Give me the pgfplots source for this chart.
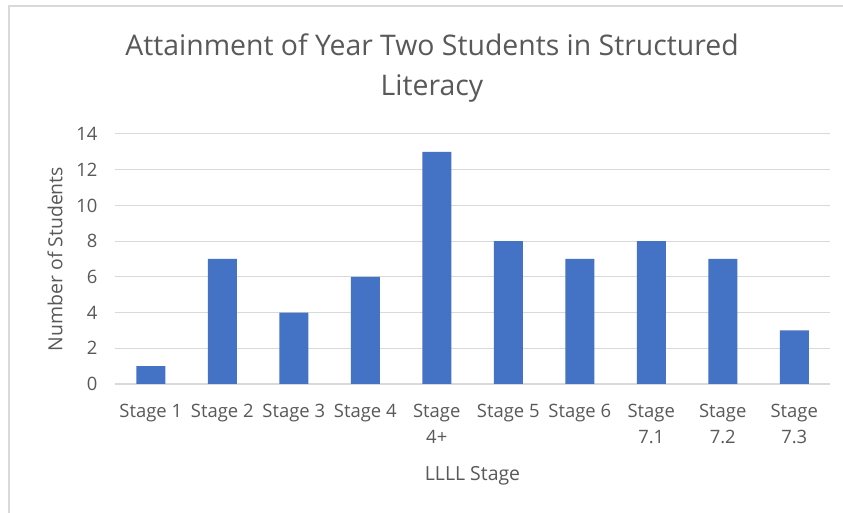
\documentclass[border=0pt]{standalone}
\usepackage{fontspec}
\setmainfont{Open Sans}
\usepackage{pgfplots}
\pgfplotsset{compat=1.18}
\definecolor{barblue}{HTML}{4472C4}
\definecolor{txtgray}{HTML}{595959}
\definecolor{gridgray}{HTML}{D9D9D9}
\begin{document}
\begin{tikzpicture}
\useasboundingbox (0,0) rectangle (843bp,513bp);
\fill[white] (0,0) rectangle (843bp,513bp);
\draw[gridgray, line width=2bp] (9bp,0) -- (9bp,507bp) -- (843bp,507bp);
\begin{axis}[
  at={(115bp,129bp)}, anchor=south west,
  scale only axis, width=715bp, height=250bp,
  xmin=-0.5, xmax=9.5, ymin=0, ymax=14,
  ytick={0,2,...,14},
  xtick={0,...,9},
  xticklabels={{Stage 1},{Stage 2},{Stage 3},{Stage 4},{Stage\\4+},{Stage 5},{Stage 6},{Stage\\7.1},{Stage\\7.2},{Stage\\7.3}},
  xticklabel style={align=center, anchor=north, yshift=-17bp},
  ticklabel style={font=\fontsize{18.5}{26}\selectfont, text=txtgray},
  /pgf/number format/assume math mode=true,
  yticklabel style={xshift=-14bp},
  major tick length=0pt,
  ymajorgrids, grid style={gridgray, line width=1bp},
  axis x line*=bottom, axis y line*=left,
  y axis line style={draw=none},
  x axis line style={gridgray, line width=1.2bp, -},
  ybar, bar width=29bp,
  xlabel={LLLL Stage},
  ylabel={Number of Students},
  label style={font=\fontsize{19.5}{22}\selectfont, text=txtgray},
  xlabel style={at={(0.5,0)}, anchor=center, yshift=-92bp},
  ylabel style={at={(0,0.5)}, anchor=center, yshift=60bp},
]
\addplot[fill=barblue, draw=none] coordinates {
(0,1) (1,7) (2,4) (3,6) (4,13) (5,8) (6,7) (7,8) (8,7) (9,3)};
\end{axis}
\node[align=center, text=txtgray, font=\fontsize{28.5}{40}\selectfont] at (432bp,445bp) {Attainment of Year Two Students in Structured\\Literacy};
\end{tikzpicture}
\end{document}
